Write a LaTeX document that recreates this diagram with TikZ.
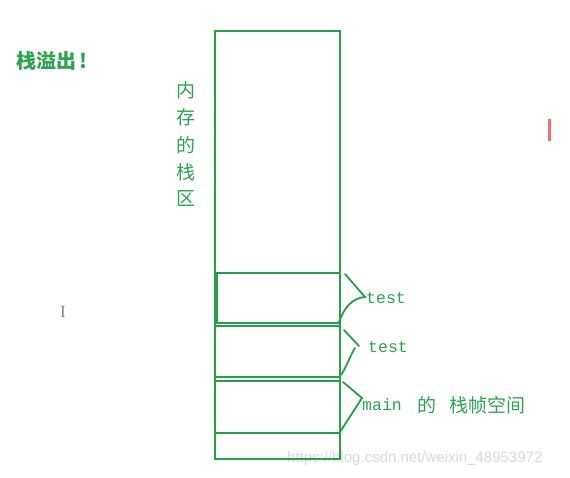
\documentclass[tikz,border=0pt]{standalone}
\usepackage{fontspec}
\newfontfamily\cjk{Noto Sans CJK SC}
\newfontfamily\mono{Liberation Mono}
\newfontfamily\wm{Liberation Sans}
\newfontfamily\serifI{Liberation Serif}
\definecolor{gline}{RGB}{38,160,72}
\definecolor{gtext}{RGB}{44,165,80}
\definecolor{wmgray}{RGB}{218,218,218}
\definecolor{redbar}{RGB}{240,110,110}
\tikzset{
  ln/.style={draw=gline, line width=2pt},
  brace/.style={draw=gline, line width=1.8pt, line cap=round},
  cjklabel/.style={text=gtext, font=\cjk\fontsize{19}{19}\selectfont, inner sep=0pt},
  monolabel/.style={text=gtext, font=\mono\fontsize{16.5}{16.5}\selectfont, inner sep=0pt},
}
\begin{document}
\begin{tikzpicture}[x=1pt,y=-1pt]
\useasboundingbox[fill=white] (0,0) rectangle (570,478);
% watermark
\node[text=wmgray, font=\wm\fontsize{15}{15}\selectfont, anchor=west, inner sep=0pt] (wmark) at (287,459) {https://blog.csdn.net/weixin\_48953972};
% stack
\draw[ln] (215,31) rectangle (340,459);
\draw[ln] (217,273) rectangle (340,323);
\draw[ln] (215,326) -- (340,326);
\draw[ln] (215,377) -- (340,377);
\draw[ln] (215,381) -- (340,381);
\draw[ln] (215,433) -- (340,433);
% labels
\node[cjklabel, font=\cjk\bfseries\fontsize{20}{20}\selectfont, anchor=west] (overflow) at (16,61) {栈溢出\hspace{3pt}!};
\node[cjklabel] (c1) at (186,90) {内};
\node[cjklabel] (c2) at (186,117) {存};
\node[cjklabel] (c3) at (186,145) {的};
\node[cjklabel] (c4) at (186,172) {栈};
\node[cjklabel] (c5) at (186,199) {区};
\node[monolabel, anchor=west] (t1) at (366,298) {test};
\node[monolabel, anchor=west] (t2) at (368,347) {test};
\node[monolabel, anchor=west] (mainl) at (362,405) {main};
\node[cjklabel, anchor=west] (de) at (417,405) {的};
\node[cjklabel, anchor=west] (frame) at (449,405) {栈帧空间};
% braces
\coordinate (b1a) at (345,274); \coordinate (b1m) at (365,297); \coordinate (b1b) at (339,322);
\draw[brace] (b1a) -- (b1m) .. controls (352,298) and (344,308) .. (b1b);
\coordinate (b2a) at (344,330); \coordinate (b2m) at (359,346); \coordinate (b2c) at (355,348); \coordinate (b2b) at (341,375);
\draw[brace] (b2a) -- (b2m);
\draw[brace] (b2c) .. controls (350,356) and (346,368) .. (b2b);
\coordinate (b3a) at (343,382); \coordinate (b3m) at (362,398); \coordinate (b3b) at (340,432);
\draw[brace] (b3a) -- (b3m) -- (b3b);
% cursor and red mark
\node[text=gray, font=\serifI\fontsize{17}{17}\selectfont, inner sep=0pt] (cursor) at (63,312) {I};
\fill[redbar] (548,119) rectangle (551,141);
\end{tikzpicture}
\end{document}
